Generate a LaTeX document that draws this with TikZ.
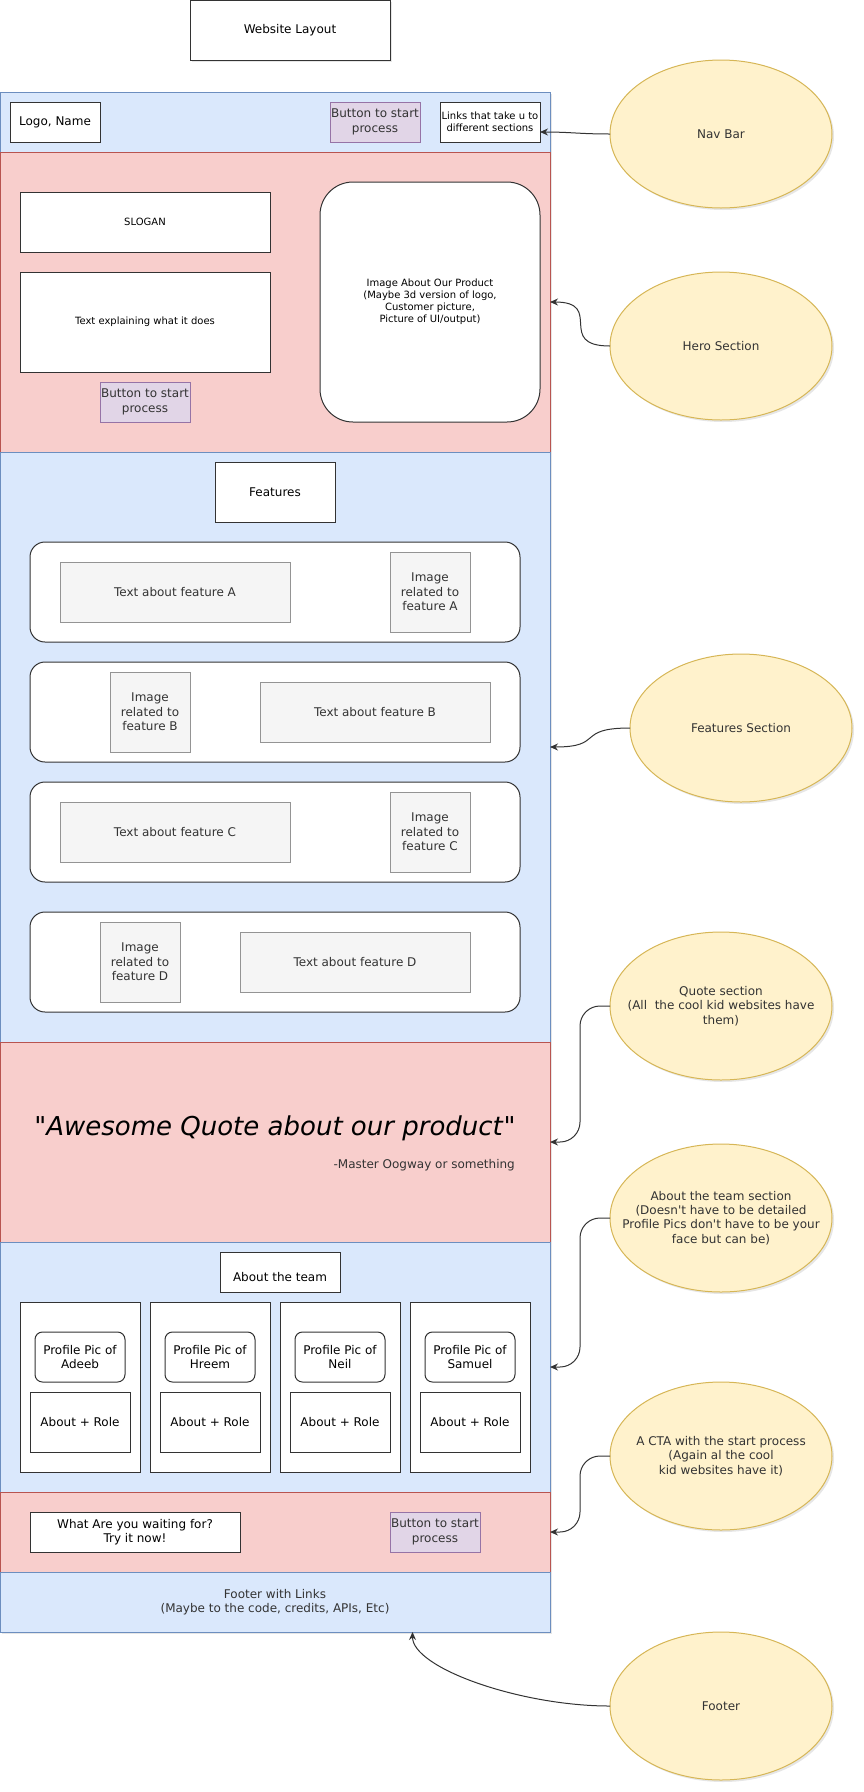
\documentclass[tikz,border=0pt]{standalone}
\usepackage{fontspec}
\setmainfont{DejaVu Sans}[Ligatures=TeXOff]
\usetikzlibrary{shapes.geometric,arrows.meta,shadows,calc}
\definecolor{bluef}{HTML}{DAE8FC}
\definecolor{bluel}{HTML}{6C8EBF}
\definecolor{redf}{HTML}{F8CECC}
\definecolor{redl}{HTML}{B85450}
\definecolor{purf}{HTML}{E1D5E7}
\definecolor{purl}{HTML}{9673A6}
\definecolor{yelf}{HTML}{FFF2CC}
\definecolor{yell}{HTML}{D6B656}
\definecolor{greyf}{HTML}{F5F5F5}
\definecolor{greyl}{HTML}{666666}
\definecolor{greyt}{HTML}{333333}
\newcommand\ften{\fontsize{10}{12}\selectfont}
\newcommand\ftwelve{\fontsize{12}{14.4}\selectfont}
\tikzset{
  shad/.style={drop shadow={shadow xshift=2pt, shadow yshift=-2pt, opacity=0.2}},
  sect/.style={line width=1pt, inner sep=0pt, outer sep=0pt, shad, minimum width=550pt},
  bluesec/.style={sect, draw=bluel, fill=bluef},
  redsec/.style={sect, draw=redl, fill=redf},
  wbox/.style={draw=black!80, fill=white, line width=1pt, inner sep=0pt, outer sep=0pt, align=center, font=\ftwelve},
  pbtn/.style={draw=purl, fill=purf, line width=1pt, inner sep=0pt, outer sep=0pt, align=center, font=\ftwelve, minimum width=90pt, minimum height=40pt, text=greyt},
  gbox/.style={draw=greyl!70, fill=greyf, text=greyt, line width=1pt, inner sep=0pt, outer sep=0pt, align=center, font=\ftwelve},
  note/.style={ellipse, draw=yell, fill=yelf, line width=1pt, minimum width=222pt, minimum height=148pt, inner sep=0pt, outer sep=0pt, shad,
    label={[align=center, font=\ftwelve, text=greyt, inner sep=0pt]center:#1}},
  conn/.style={draw=greyt, line width=1pt, -{Stealth[length=8pt,width=7pt]}}
}
\begin{document}
\begin{tikzpicture}[x=1pt, y=-1pt]
\useasboundingbox (0,0) rectangle (864,1792);

% title
\node[wbox, minimum width=200pt, minimum height=60pt, shad] (title) at (290,30) {Website Layout};

% sections
\node[bluesec, minimum height=60pt] (nav) at (275,122) {};
\node[redsec, minimum height=300pt] (hero) at (275,302) {};
\node[bluesec, minimum height=590pt] (features) at (275,747) {};
\node[redsec, minimum height=200pt] (quote) at (275,1142) {};
\node[bluesec, minimum height=250pt] (team) at (275,1367) {};
\node[redsec, minimum height=80pt] (cta) at (275,1532) {};
\node[bluesec, minimum height=60pt, align=center, font=\ftwelve, text=greyt] (footer) at (275,1602) {Footer with Links\\(Maybe to the code, credits, APIs, Etc)};

% nav bar
\node[wbox, minimum width=90pt, minimum height=40pt] (logo) at (55,122) {Logo, Name};
\node[pbtn] (navbtn) at (375,122) {Button to start\\process};
\node[wbox, font=\ften, minimum width=100pt, minimum height=40pt] (links) at (490,122) {Links that take u to\\different sections};

% hero
\node[wbox, font=\ften, minimum width=250pt, minimum height=60pt] (slogan) at (145,222) {SLOGAN};
\node[wbox, font=\ften, minimum width=250pt, minimum height=100pt] (explain) at (145,322) {Text explaining what it does};
\node[pbtn] (herobtn) at (145,402) {Button to start\\process};
\node[wbox, font=\ften, rounded corners=33pt, minimum width=220pt, minimum height=240pt] (heroimg) at (430,302) {Image About Our Product\\(Maybe 3d version of logo,\\Customer picture,\\Picture of UI/output)};

% features
\node[wbox, minimum width=120pt, minimum height=60pt] (feattitle) at (275,492) {Features};
\node[wbox, rounded corners=15pt, minimum width=490pt, minimum height=100pt] (rowA) at (275,592) {};
\node[gbox, minimum width=230pt, minimum height=60pt] (textA) at (175,592) {Text about feature A};
\node[gbox, minimum width=80pt, minimum height=80pt] (imgA) at (430,592) {Image\\related to\\feature A};
\node[wbox, rounded corners=15pt, minimum width=490pt, minimum height=100pt] (rowB) at (275,712) {};
\node[gbox, minimum width=80pt, minimum height=80pt] (imgB) at (150,712) {Image\\related to\\feature B};
\node[gbox, minimum width=230pt, minimum height=60pt] (textB) at (375,712) {Text about feature B};
\node[wbox, rounded corners=15pt, minimum width=490pt, minimum height=100pt] (rowC) at (275,832) {};
\node[gbox, minimum width=230pt, minimum height=60pt] (textC) at (175,832) {Text about feature C};
\node[gbox, minimum width=80pt, minimum height=80pt] (imgC) at (430,832) {Image\\related to\\feature C};
\node[wbox, rounded corners=15pt, minimum width=490pt, minimum height=100pt] (rowD) at (275,962) {};
\node[gbox, minimum width=80pt, minimum height=80pt] (imgD) at (140,962) {Image\\related to\\feature D};
\node[gbox, minimum width=230pt, minimum height=60pt] (textD) at (355,962) {Text about feature D};

% quote
\node[font=\fontsize{26}{31}\selectfont, inner sep=0pt] (qtext) at (275,1128) {"\textit{Awesome Quote about our product}"};
\node[font=\ftwelve, text=greyt, anchor=east, inner sep=0pt] (qauthor) at (515,1165) {-Master Oogway or something};

% team
\node[wbox, minimum width=120pt, minimum height=40pt] (teamtitle) at (280,1272) {};
\node[font=\ftwelve, inner sep=0pt] (teamtitletext) at ([yshift=-5pt]teamtitle.center) {About the team};
\foreach \cx/\nm/\id in {80/Adeeb/a, 210/Hreem/b, 340/Neil/c, 470/Samuel/d} {
  \node[wbox, minimum width=120pt, minimum height=170pt] (card\id) at (\cx,1387) {};
  \node[wbox, rounded corners=7.5pt, minimum width=90pt, minimum height=50pt] (pic\id) at (\cx,1357) {Profile Pic of\\\nm};
  \node[wbox, minimum width=100pt, minimum height=60pt] (role\id) at (\cx,1422) {About + Role};
}

% cta
\node[wbox, minimum width=210pt, minimum height=40pt] (wait) at (135,1532) {What Are you waiting for?\\Try it now!};
\node[pbtn] (ctabtn) at (435,1532) {Button to start\\process};

% notes
\node[note={Nav Bar}] (navE) at (721,134) {};
\node[note={Hero Section}] (heroE) at (721,346) {};
\node[note={Features Section}] (featE) at (741,728) {};
\node[note={Quote section\\(All\ \ the cool kid websites have\\them)}] (quoteE) at (721,1006) {};
\node[note={About the team section\\(Doesn't have to be detailed\\Profile Pics don't have to be your\\face but can be)}] (teamE) at (721,1218) {};
\node[note={A CTA with the start process\\(Again al the cool\\kid websites have it)}] (ctaE) at (721,1456) {};
\node[note={Footer}] (footE) at (721,1706) {};

\coordinate (footTarget) at ($(footer.south west)!0.75!(footer.south east)$);

% connectors
\draw[conn] (navE.west) .. controls +(-30,0) and +(30,0) .. ([yshift=-10pt]links.east);
\draw[conn] (heroE.west) .. controls +(-55,0) and +(55,0) .. (hero.east);
\draw[conn] (featE.west) .. controls +(-55,0) and +(55,0) .. (features.east);
\draw[conn, rounded corners=20pt] (quoteE.west) -| ([xshift=30pt]quote.east) -- (quote.east);
\draw[conn, rounded corners=20pt] (teamE.west) -| ([xshift=30pt]team.east) -- (team.east);
\draw[conn, rounded corners=20pt] (ctaE.west) -| ([xshift=30pt]cta.east) -- (cta.east);
\draw[conn] (footE.west) .. controls +(-90,0) and +(0,36) .. (footTarget);
\end{tikzpicture}
\end{document}
